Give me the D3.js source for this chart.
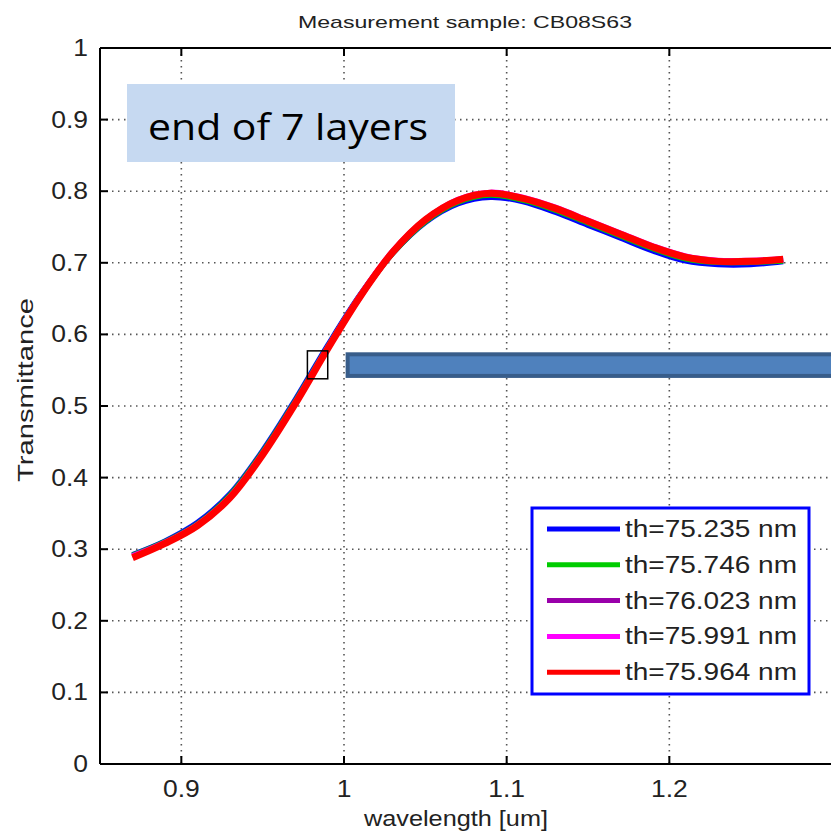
<!DOCTYPE html>
<html>
<head>
<meta charset="utf-8">
<script src="https://cdn.jsdelivr.net/npm/d3@7/dist/d3.min.js"></script>
<style>
  html, body { margin: 0; padding: 0; background: #fff; }
  svg { display: block; }
  text { font-family: "Liberation Sans", Arial, sans-serif; fill: #111; }
</style>
</head>
<body>
<svg id="chart" width="831" height="834"></svg>
<script>
// ---------- data ----------
const titleText = "Measurement sample: CB08S63";
const xLabel = "wavelength [um]";
const yLabel = "Transmittance";
const annotationText = "end of 7 layers";

const wavelength = [0.87, 0.89, 0.91, 0.93, 0.95, 0.97, 0.99, 1.01, 1.03, 1.05, 1.07,
                    1.09, 1.11, 1.13, 1.15, 1.17, 1.19, 1.21, 1.23, 1.25, 1.27];

const seriesNames = ["th=75.235 nm", "th=75.746 nm", "th=76.023 nm", "th=75.991 nm", "th=75.964 nm"];
const seriesColors = ["#0000ff", "#00cc00", "#9900aa", "#ff00ff", "#ff0000"];

const tBlue    = [0.292, 0.311, 0.337, 0.377, 0.437, 0.508, 0.584, 0.655, 0.714, 0.757, 0.783,
                  0.792, 0.786, 0.771, 0.753, 0.735, 0.717, 0.703, 0.698, 0.698, 0.702];
const tGreen   = [0.291, 0.310, 0.335, 0.375, 0.435, 0.506, 0.582, 0.654, 0.714, 0.758, 0.785,
                  0.795, 0.788, 0.774, 0.756, 0.738, 0.720, 0.706, 0.701, 0.701, 0.703];
const tPurple  = [0.290, 0.309, 0.334, 0.373, 0.433, 0.504, 0.581, 0.653, 0.715, 0.760, 0.787,
                  0.797, 0.790, 0.776, 0.758, 0.740, 0.722, 0.708, 0.702, 0.702, 0.705];
const tMagenta = [0.290, 0.309, 0.334, 0.373, 0.433, 0.504, 0.581, 0.654, 0.716, 0.760, 0.788,
                  0.798, 0.791, 0.777, 0.759, 0.741, 0.723, 0.709, 0.703, 0.703, 0.705];
const tRed     = [0.288, 0.308, 0.333, 0.372, 0.432, 0.503, 0.580, 0.653, 0.715, 0.760, 0.787,
                  0.797, 0.790, 0.776, 0.758, 0.740, 0.722, 0.708, 0.702, 0.702, 0.705];

const xTicks = [0.9, 1.0, 1.1, 1.2];
const xTickLabels = ["0.9", "1", "1.1", "1.2"];
const yTicks = [0, 0.1, 0.2, 0.3, 0.4, 0.5, 0.6, 0.7, 0.8, 0.9, 1];
const yTickLabels = ["0", "0.1", "0.2", "0.3", "0.4", "0.5", "0.6", "0.7", "0.8", "0.9", "1"];

// callout marks (data coordinates)
const markerBox = { x0: 0.9775, x1: 0.99, y0: 0.538, y1: 0.577 };
const arrowBar = { x0: 1.001, x1: 1.32, y0: 0.542, y1: 0.575 };

// ---------- layout ----------
const svg = d3.select("#chart");
const L = 100, T = 48, B = 764, R = 832;
const x = d3.scaleLinear().domain([0.85, 1.3]).range([L, R]);
const y = d3.scaleLinear().domain([0, 1]).range([B, T]);

function stretch(sel, factor) {
  sel.each(function () {
    const w = this.getComputedTextLength();
    d3.select(this).attr("textLength", w * factor).attr("lengthAdjust", "spacingAndGlyphs");
  });
}

// grid
const grid = svg.append("g");
grid.selectAll("line.gx").data(xTicks).join("line")
  .attr("x1", d => x(d)).attr("x2", d => x(d)).attr("y1", T).attr("y2", B)
  .attr("stroke", "#555").attr("stroke-width", 1.6).attr("stroke-dasharray", "1.5,4.5");
grid.selectAll("line.gy").data(yTicks.slice(1, -1)).join("line")
  .attr("x1", L).attr("x2", R).attr("y1", d => y(d)).attr("y2", d => y(d))
  .attr("stroke", "#555").attr("stroke-width", 1.6).attr("stroke-dasharray", "1.5,4.5");

// annotation box
svg.append("rect").attr("x", 127).attr("y", 84).attr("width", 328).attr("height", 78)
  .attr("fill", "#c6d9f1");
const ann = svg.append("text").attr("x", 288).attr("y", 140).attr("text-anchor", "middle")
  .style("font-family", "'Open Sans', 'Noto Sans', sans-serif").style("font-size", "36px")
  .style("fill", "#000").text(annotationText);
ann.attr("textLength", 280).attr("lengthAdjust", "spacingAndGlyphs");

// curves
const allSeries = [tBlue, tGreen, tPurple, tMagenta, tRed];
const widths = [6, 6, 6, 6, 7];
const line = d3.line().x((d, i) => x(wavelength[i])).y(d => y(d)).curve(d3.curveCatmullRom);
svg.append("g").selectAll("path").data(allSeries).join("path")
  .attr("d", d => line(d))
  .attr("fill", "none")
  .attr("stroke", (d, i) => seriesColors[i])
  .attr("stroke-width", (d, i) => widths[i])
  .attr("stroke-linejoin", "round");

// callout marker square
svg.append("rect")
  .attr("x", x(markerBox.x0)).attr("y", y(markerBox.y1))
  .attr("width", x(markerBox.x1) - x(markerBox.x0)).attr("height", y(markerBox.y0) - y(markerBox.y1))
  .attr("fill", "none").attr("stroke", "#000").attr("stroke-width", 1.5);

// blue bar
svg.append("rect")
  .attr("x", x(arrowBar.x0) + 2).attr("y", y(arrowBar.y1) + 2)
  .attr("width", x(arrowBar.x1) - x(arrowBar.x0)).attr("height", y(arrowBar.y0) - y(arrowBar.y1) - 2)
  .attr("fill", "#4f81bd").attr("stroke", "#385d8a").attr("stroke-width", 4);

// axes frame
const frame = svg.append("g").attr("stroke", "#000").attr("stroke-width", 2);
frame.append("line").attr("x1", L).attr("x2", R).attr("y1", T).attr("y2", T);
frame.append("line").attr("x1", L).attr("x2", R).attr("y1", B).attr("y2", B);
frame.append("line").attr("x1", L).attr("x2", L).attr("y1", T).attr("y2", B);

// ticks (inside)
const tk = 8;
svg.append("g").selectAll("line").data(xTicks).join("line")
  .attr("x1", d => x(d)).attr("x2", d => x(d)).attr("y1", B).attr("y2", B - tk)
  .attr("stroke", "#000").attr("stroke-width", 2);
svg.append("g").selectAll("line").data(xTicks).join("line")
  .attr("x1", d => x(d)).attr("x2", d => x(d)).attr("y1", T).attr("y2", T + tk)
  .attr("stroke", "#000").attr("stroke-width", 2);
svg.append("g").selectAll("line").data(yTicks).join("line")
  .attr("x1", L).attr("x2", L + tk).attr("y1", d => y(d)).attr("y2", d => y(d))
  .attr("stroke", "#000").attr("stroke-width", 2);

// tick labels
const xl = svg.append("g").selectAll("text").data(xTicks).join("text")
  .attr("x", d => x(d)).attr("y", 797).attr("text-anchor", "middle")
  .style("font-size", "23px").style("fill", "#222")
  .text((d, i) => xTickLabels[i]);
stretch(xl, 1.15);
const yl = svg.append("g").selectAll("text").data(yTicks).join("text")
  .attr("x", 88).attr("y", d => y(d) + 8).attr("text-anchor", "end")
  .style("font-size", "23px").style("fill", "#222")
  .text((d, i) => yTickLabels[i]);
stretch(yl, 1.15);

// titles
svg.append("text").attr("x", 465).attr("y", 28).attr("text-anchor", "middle")
  .style("font-size", "17px").style("fill", "#222").text(titleText)
  .attr("textLength", 334).attr("lengthAdjust", "spacingAndGlyphs");
svg.append("text").attr("x", 456).attr("y", 826).attr("text-anchor", "middle")
  .style("font-size", "22px").style("fill", "#222").text(xLabel)
  .attr("textLength", 184).attr("lengthAdjust", "spacingAndGlyphs");
svg.append("text").attr("transform", "translate(33,390) rotate(-90)").attr("text-anchor", "middle")
  .style("font-size", "22px").style("fill", "#222").text(yLabel)
  .attr("textLength", 184).attr("lengthAdjust", "spacingAndGlyphs");

// legend
const lg = svg.append("g");
lg.append("rect").attr("x", 532).attr("y", 508).attr("width", 277).attr("height", 186)
  .attr("fill", "#fff").attr("stroke", "#0000ff").attr("stroke-width", 3);
const rows = lg.selectAll("g.row").data(seriesNames).join("g")
  .attr("transform", (d, i) => `translate(0,${529 + i * 35.8})`);
rows.append("line").attr("x1", 547).attr("x2", 620).attr("y1", 0).attr("y2", 0)
  .attr("stroke", (d, i) => seriesColors[i]).attr("stroke-width", 5);
const lt = rows.append("text").attr("x", 625).attr("y", 8)
  .style("font-size", "23px").style("fill", "#222").text(d => d);
lt.attr("textLength", 172).attr("lengthAdjust", "spacingAndGlyphs");
</script>
</body>
</html>
